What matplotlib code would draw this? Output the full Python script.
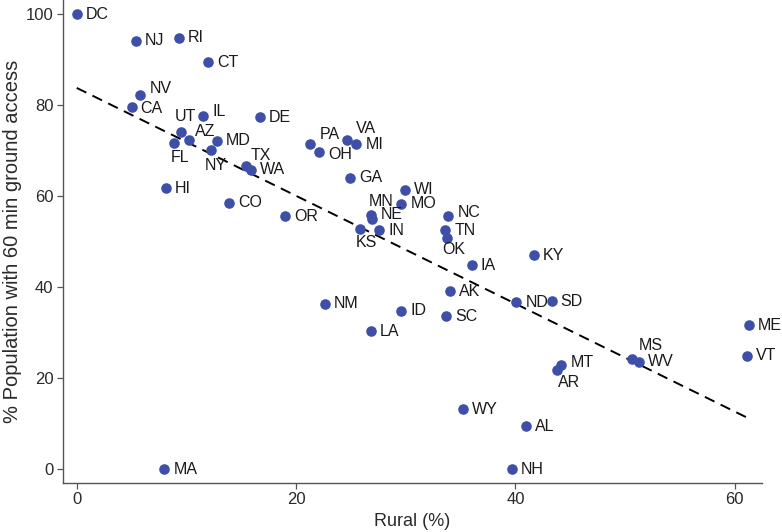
import matplotlib
matplotlib.use('Agg')
import matplotlib.pyplot as plt

plt.rcParams['font.family'] = ['Liberation Sans', 'DejaVu Sans']

# data
states = ['DC', 'NJ', 'RI', 'CT', 'NV', 'CA', 'IL', 'DE', 'UT', 'AZ',
          'MD', 'FL', 'NY', 'TX', 'WA', 'HI', 'CO', 'OR', 'PA', 'OH',
          'VA', 'MI', 'GA', 'WI', 'MO', 'MN', 'NE', 'KS', 'IN', 'NC',
          'TN', 'OK', 'IA', 'KY', 'AK', 'ND', 'SD', 'NM', 'ID', 'SC',
          'LA', 'ME', 'VT', 'MS', 'WV', 'MT', 'AR', 'WY', 'AL', 'NH',
          'MA']
rural = [0.0, 5.4, 9.3, 12.0, 5.8, 5.0, 11.5, 16.7, 9.5, 10.2,
         12.8, 8.9, 12.2, 15.4, 15.9, 8.1, 13.9, 19.0, 21.3, 22.1,
         24.6, 25.5, 24.9, 29.9, 29.6, 26.8, 26.9, 25.8, 27.6, 33.9,
         33.6, 33.8, 36.0, 41.7, 34.0, 40.1, 43.3, 22.6, 29.6, 33.7,
         26.8, 61.3, 61.1, 50.6, 51.3, 44.2, 43.8, 35.2, 41.0, 39.7,
         8.0]
access = [100.0, 94.2, 94.8, 89.5, 82.2, 79.7, 77.6, 77.3, 74.1, 72.4,
          72.2, 71.6, 70.2, 66.7, 65.8, 61.7, 58.6, 55.6, 71.5, 69.7,
          72.4, 71.4, 64.1, 61.4, 58.3, 55.8, 55.0, 52.8, 52.6, 55.6,
          52.5, 50.9, 44.8, 47.0, 39.1, 36.7, 36.9, 36.3, 34.8, 33.6,
          30.3, 31.6, 24.9, 24.1, 23.6, 22.9, 21.7, 13.1, 9.4, 0.0,
          0.0]

# fitted line (intercept, slope) as drawn
fit_a, fit_b = 83.8, -1.186

# label placement: (dx pt, dy pt, ha) ; default is to the right
label_pos = {
    'NV': (6.5, 4.5, 'left'),
    'UT': (3, 11, 'center'),
    'IL': (7, 3.5, 'left'),
    'AZ': (4.5, 6, 'left'),
    'FL': (4, -10, 'center'),
    'NY': (3.5, -11.5, 'center'),
    'TX': (3.5, 7, 'left'),
    'CA': (6.5, -1.5, 'left'),
    'PA': (6.5, 7, 'left'),
    'VA': (6.5, 8, 'left'),
    'OH': (6.5, -2, 'left'),
    'MN': (-1, 10, 'left'),
    'NE': (6.5, 3, 'left'),
    'KS': (5, -10, 'center'),
    'IN': (6.5, -0.5, 'left'),
    'NC': (6.5, 3, 'left'),
    'OK': (4.5, -8.5, 'center'),
    'MS': (5, 10, 'left'),
    'AR': (0.5, -9, 'left'),
    'MT': (6.5, 1.5, 'left'),
}

fig = plt.figure(figsize=(7.82, 5.32), dpi=100)
ax = fig.add_axes([0.0806, 0.0927, 0.894, 0.907])

ax.scatter(rural, access, s=58, color='#3d4fa6', zorder=3, linewidths=0)

for st, x, y in zip(states, rural, access):
    dx, dy, ha = label_pos.get(st, (6.5, 0, 'left'))
    ax.annotate(st, (x, y), xytext=(dx, dy), textcoords='offset points',
                ha=ha, va='center', fontsize=11.5, color='#1a1a1a', zorder=4)

x0, x1 = 0, max(rural)
ax.plot([x0, x1], [fit_a + fit_b * x0, fit_a + fit_b * x1], color='black',
        lw=1.4, linestyle=(0, (5.5, 3.5)), zorder=2)

ax.set_xlim(-1.25, 62.5)
ax.set_ylim(-3.0, 103.1)
ax.set_xticks([0, 20, 40, 60])
ax.set_yticks([0, 20, 40, 60, 80, 100])

for side in ['top', 'right']:
    ax.spines[side].set_visible(False)
for side in ['left', 'bottom']:
    ax.spines[side].set_color('#555555')
    ax.spines[side].set_linewidth(1.0)

ax.tick_params(direction='out', length=4, width=0.9, color='#555555',
               labelsize=12, labelcolor='#2a2a2a', pad=3)

ax.set_xlabel('Rural (%)', fontsize=13, color='#2a2a2a', labelpad=4)
ax.set_ylabel('% Population with 60 min ground access', fontsize=14.5,
              color='#2a2a2a')
ax.yaxis.set_label_coords(-0.059, 0.5)

fig.savefig('out.png', dpi=100)
